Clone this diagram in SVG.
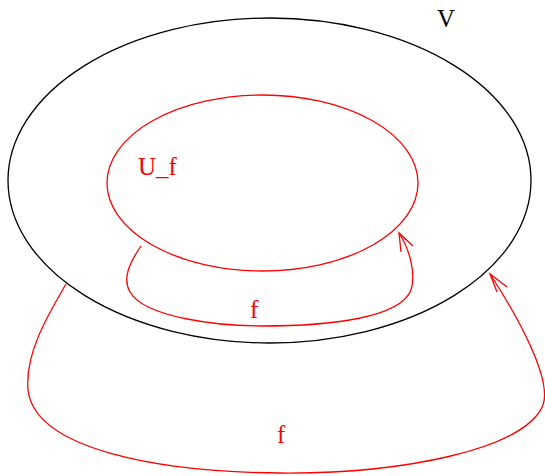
<svg xmlns="http://www.w3.org/2000/svg" width="545" height="476" viewBox="0 0 545 476">
<style>
.lbl{font-family:"Liberation Serif","Times New Roman",serif;font-size:25px}
.red{fill:red}
.conn{fill:none;stroke:red;stroke-width:1.3}
</style>
<rect width="545" height="476" fill="#fff"/>
<g id="V">
<ellipse cx="269.5" cy="180.5" rx="261.5" ry="162.5" fill="none" stroke="#000" stroke-width="1.3"/>
<text class="lbl" x="437" y="27">V</text>
</g>
<g id="U_f">
<ellipse cx="262.5" cy="183" rx="155.5" ry="88" fill="none" stroke="red" stroke-width="1.3"/>
<text class="lbl red" x="138" y="175">U_f</text>
</g>
<g id="connectors">
<path class="conn" d="M141,246 C130,262 122,278 130,292 C145,318 220,326 262,326 C330,326 400,318 411,290 C416,274 410,250 399,233"/>
<polyline class="conn" points="413,246 399,233 401,252"/>
<text class="lbl red" x="250" y="318">f</text>
<path class="conn" d="M66,284 C45,320 25,355 28,390 C35,450 160,472 280,473 C400,474 525,450 543,405 C552,380 520,320 490,274"/>
<polyline class="conn" points="507,287 490,274 497,292"/>
<text class="lbl red" x="277" y="443">f</text>
</g>
</svg>
